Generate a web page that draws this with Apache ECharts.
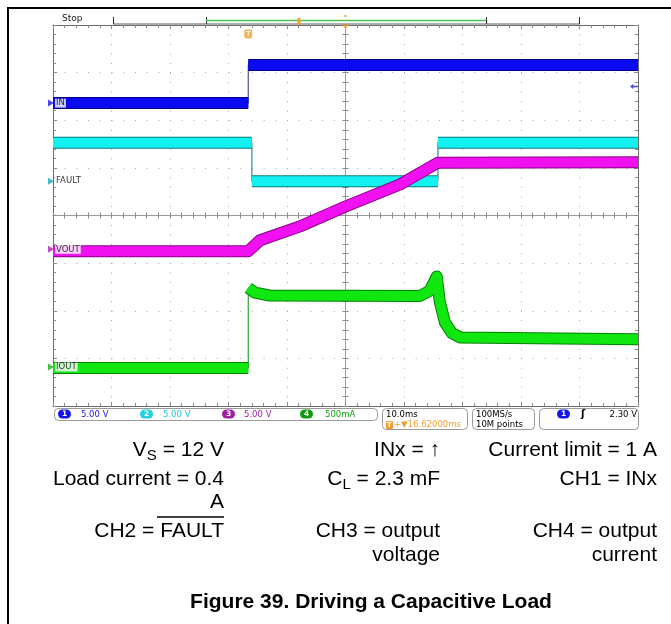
<!DOCTYPE html>
<html>
<head>
<meta charset="utf-8">
<script src="https://cdn.jsdelivr.net/npm/echarts@6/dist/echarts.min.js"></script>
<style>
html,body{margin:0;padding:0;background:#fff;}
#chart{width:671px;height:624px;}
</style>
</head>
<body>
<div id="chart"></div>
<script>
// ---- scope settings (time in ms relative to screen centre, level in divisions) ----
const timeMin = -50, timeMax = 50, timeStep = 10;
const divMin = -4, divMax = 4, divStep = 1;

// ---- traces ----
const inTime = [-50, -16.62, -16.62, 50];
const inLevel = [2.36, 2.36, 3.16, 3.16];

const faultTime = [-50, -16.0, -16.0, 15.8, 15.8, 50];
const faultLevel = [1.53, 1.53, 0.72, 0.72, 1.53, 1.53];

const voutTime = [-50, -16.62, -14.6, -7.8, 0, 9.3, 15.8, 50];
const voutLevel = [-0.75, -0.75, -0.52, -0.23, 0.19, 0.65, 1.11, 1.12];

const ioutTime = [-50, -16.62, -16.62, -15.5, -13.0, 12.7, 14.4, 15.6, 16.1, 17.0, 18.2, 19.6, 50];
const ioutLevel = [-3.20, -3.20, -1.52, -1.62, -1.68, -1.69, -1.58, -1.28, -1.80, -2.25, -2.47, -2.56, -2.60];

// ---- channel markers ----
const chNames = ['IN', 'FAULT', 'VOUT', 'IOUT'];
const chGround = [2.36, 0.72, -0.71, -3.18];
const chColors = ['#1a1ae0', '#1aa8b8', '#b01ab0', '#1ab01a'];
const trigTime = -16.62;
const trigLevelDiv = 2.71;

// ---- status bar / notes text ----
const chScales = ['5.00 V', '5.00 V', '5.00 V', '500mA'];
const timeBase = '10.0ms';
const trigDelay = '+\u25BC16.62000ms';
const sampleRate = '100MS/s';
const recordLen = '10M points';
const trigLevelText = '2.30 V';

const chart = echarts.init(document.getElementById('chart'), null, {renderer: 'canvas'});

function pts(time, level) { return time.map((t, i) => [t, level[i]]); }
function thickPts(time, level) {
  const out = [];
  for (let i = 0; i < time.length; i++) {
    if (i > 0 && time[i] === time[i - 1]) out.push([time[i], null]);
    out.push([time[i], level[i]]);
  }
  return out;
}
function trace(time, level, thin, dark, bright) {
  const base = {type: 'line', xAxisIndex: 0, yAxisIndex: 0, symbol: 'none', showSymbol: false,
    silent: true, animation: false, connectNulls: false, emphasis: {disabled: true}};
  return [
    Object.assign({}, base, {data: pts(time, level), z: 2, lineStyle: {width: 1.2, color: thin}}),
    Object.assign({}, base, {data: thickPts(time, level), z: 3, lineStyle: {width: 12, color: dark, cap: 'butt', join: 'round'}}),
    Object.assign({}, base, {data: thickPts(time, level), z: 3, lineStyle: {width: 10, color: bright, cap: 'butt', join: 'round'}})
  ];
}

const G = {left: 53, top: 25, width: 585, height: 381};
const grids = [0, 1, 2, 3].map(() => Object.assign({containLabel: false, outerBoundsMode: 'none'}, G));

const tickCol = '#8a8a8a';
function xAx(gi, extra) {
  return Object.assign({
    gridIndex: gi, type: 'value', min: timeMin, max: timeMax, interval: timeStep,
    axisLabel: {show: false}, splitLine: {show: false},
    axisLine: {show: true, onZero: false, lineStyle: {color: '#6a6a6a', width: 1}},
    axisTick: {show: true, inside: true, length: 4, lineStyle: {color: tickCol}},
    minorTick: {show: true, splitNumber: 5, length: 3, lineStyle: {color: tickCol}}
  }, extra);
}
function yAx(gi, extra) {
  return Object.assign({
    gridIndex: gi, type: 'value', min: divMin, max: divMax, interval: divStep,
    axisLabel: {show: false}, splitLine: {show: false},
    axisLine: {show: true, onZero: false, lineStyle: {color: '#6a6a6a', width: 1}},
    axisTick: {show: true, inside: true, length: 4, lineStyle: {color: tickCol}},
    minorTick: {show: true, splitNumber: 5, length: 3, lineStyle: {color: tickCol}}
  }, extra);
}
const crossLine = {show: true, onZero: true, lineStyle: {color: '#9a9a9a', width: 1}};
const xAxes = [
  xAx(0, {position: 'bottom', splitLine: {show: true, lineStyle: {color: '#a8a8a8', width: 1, type: [1, 8.52]}}}),
  xAx(1, {position: 'top'}),
  xAx(2, {position: 'bottom', axisLine: crossLine, axisTick: {show: true, inside: true, length: 3, lineStyle: {color: tickCol}}, minorTick: {show: true, splitNumber: 5, length: 3, lineStyle: {color: tickCol}}}),
  xAx(3, {position: 'bottom', axisLine: crossLine, axisTick: {show: true, inside: false, length: 3, lineStyle: {color: tickCol}}, minorTick: {show: true, splitNumber: 5, length: 3, lineStyle: {color: tickCol}}})
];
const yAxes = [
  yAx(0, {position: 'left', splitLine: {show: true, lineStyle: {color: '#a8a8a8', width: 1, type: [1, 10.7]}}}),
  yAx(1, {position: 'right'}),
  yAx(2, {position: 'left', axisLine: crossLine, axisTick: {show: true, inside: true, length: 3, lineStyle: {color: tickCol}}, minorTick: {show: true, splitNumber: 5, length: 3, lineStyle: {color: tickCol}}}),
  yAx(3, {position: 'left', axisLine: crossLine, axisTick: {show: true, inside: false, length: 3, lineStyle: {color: tickCol}}, minorTick: {show: true, splitNumber: 5, length: 3, lineStyle: {color: tickCol}}})
];

const series = []
  .concat(trace(inTime, inLevel, '#505098', '#00008a', '#0a0af0'))
  .concat(trace(faultTime, faultLevel, '#2a8a8a', '#008080', '#12f0f0'))
  .concat(trace(voutTime, voutLevel, '#802080', '#8a008a', '#f010f0'))
  .concat(trace(ioutTime, ioutLevel, '#30a030', '#008000', '#10e610'));

// channel ground markers with labels
chNames.forEach((n, i) => {
  series.push({
    type: 'scatter', xAxisIndex: 0, yAxisIndex: 0, silent: true, animation: false, clip: false, z: 6,
    data: [{name: n, value: [timeMin, chGround[i]]}],
    symbol: 'triangle', symbolRotate: -90, symbolSize: [7, 6], symbolOffset: [-2, 0],
    itemStyle: {color: chColors[i]},
    label: {show: true, position: 'right', distance: 1, formatter: '{b}', color: '#000',
      fontFamily: 'DejaVu Sans', fontSize: 8.5, backgroundColor: '#fff', padding: [0, 1, 0, 1]}
  });
});
// trigger position "T" and expansion point
series.push({
  type: 'scatter', xAxisIndex: 0, yAxisIndex: 0, silent: true, animation: false, clip: false, z: 6,
  data: [[trigTime, 3.81]], symbol: 'roundRect', symbolSize: [8, 9],
  itemStyle: {color: '#f0a030'},
  label: {show: true, position: 'inside', formatter: 'T', color: '#fff', fontSize: 7, fontWeight: 'bold', fontFamily: 'DejaVu Sans'}
});
series.push({
  type: 'scatter', xAxisIndex: 0, yAxisIndex: 0, silent: true, animation: false, clip: false, z: 6,
  data: [[0, divMax]], symbol: 'triangle', symbolRotate: 180, symbolSize: [7, 5], symbolOffset: [0, 2],
  itemStyle: {color: '#f0a030'}
});
// trigger level arrow on the right edge
series.push({
  type: 'scatter', xAxisIndex: 0, yAxisIndex: 0, silent: true, animation: false, clip: false, z: 6,
  data: [[timeMax, trigLevelDiv]], symbol: 'path://M0,5 L5,0 L5,3.5 L12,3.5 L12,6.5 L5,6.5 L5,10 Z',
  symbolSize: [8, 5], symbolOffset: [-4, 0], itemStyle: {color: '#1a1ae0'}
});

// ---------- graphics (frame, record bar, status bar, notes) ----------
const F = 'DejaVu Sans';
function txt(x, y, text, opt) {
  opt = opt || {};
  const align = opt.align || 'left';
  return {type: 'text', z: 10, silent: true, style: Object.assign({
    text: text, x: x, y: y, align: align, textAlign: align, verticalAlign: 'middle', textVerticalAlign: 'middle',
    fill: opt.fill || '#000', fontSize: opt.size || 8.5, fontFamily: opt.family || F, fontWeight: opt.weight || 'normal'
  }, opt.extra || {})};
}
function pill(x, y, color, label) {
  return [
    {type: 'rect', z: 10, silent: true, shape: {x: x, y: y, width: 13, height: 9, r: 4.5}, style: {fill: color}},
    txt(x + 6.5, y + 4.7, label, {align: 'center', fill: '#fff', size: 7.5, weight: 'bold'})
  ];
}
function box(x, y, w, h) {
  return {type: 'rect', z: 9, silent: true, shape: {x: x, y: y, width: w, height: h, r: 4}, style: {fill: 'none', stroke: '#9a9a9a', lineWidth: 1}};
}
function seg(x1, y1, x2, y2, color, w) {
  return {type: 'line', z: 10, silent: true, shape: {x1: x1, y1: y1, x2: x2, y2: y2}, style: {stroke: color, lineWidth: w || 1}};
}

const g = [];
// outer figure border
g.push({type: 'polyline', z: 10, silent: true, shape: {points: [[671, 8], [8, 8], [8, 624]]}, style: {stroke: '#000', lineWidth: 2, fill: 'none'}});
// record bar
g.push(txt(62, 19, 'Stop', {size: 9, fill: '#202020'}));
g.push(seg(113, 24, 580, 24, '#5a5a5a', 1));
[113, 206, 486, 579].forEach(x => g.push(seg(x + 0.5, 17, x + 0.5, 24, '#303030', 1)));
g.push(seg(206, 20.5, 486, 20.5, '#50c050', 1.5));
g.push({type: 'rect', z: 11, silent: true, shape: {x: 297.5, y: 18, width: 3, height: 7}, style: {fill: '#f0a030'}});
g.push({type: 'rect', z: 11, silent: true, shape: {x: 344.5, y: 15, width: 2, height: 2}, style: {fill: '#f0a030'}});

// status bar
g.push(box(54.5, 408.5, 323, 12));
const pillX = [58, 140, 222, 300];
const textX = [81, 163, 244, 325];
const pillCols = ['#1414e6', '#22d0e0', '#a0209c', '#109c10'];
const txtCols = ['#2020e0', '#20c8d8', '#a0209c', '#10a010'];
for (let i = 0; i < 4; i++) {
  g.push(...pill(pillX[i], 409.5, pillCols[i], String(i + 1)));
  g.push(txt(textX[i], 414.5, chScales[i], {fill: txtCols[i]}));
}
g.push(box(382.5, 408.5, 85, 21));
g.push(txt(386, 414.5, timeBase));
g.push({type: 'rect', z: 10, silent: true, shape: {x: 386, y: 421, width: 7, height: 8, r: 1}, style: {fill: '#f0a030'}});
g.push(txt(389.5, 425, 'T', {align: 'center', fill: '#fff', size: 7, weight: 'bold'}));
g.push(txt(394, 425, trigDelay, {fill: '#f0a030'}));
g.push(box(472.5, 408.5, 62, 21));
g.push(txt(476, 414.5, sampleRate));
g.push(txt(476, 425, recordLen));
g.push(box(539.5, 408.5, 99, 21));
g.push(...pill(557, 409.5, '#1414e6', '1'));
g.push(txt(581, 414.5, '\u0283', {size: 10, weight: 'bold'}));
g.push(txt(637, 414.5, trigLevelText, {align: 'right'}));

// notes table
const NF = 'Liberation Sans';
const rich = {
  m: {fontSize: 21, fontFamily: NF, color: '#000', lineHeight: 26},
  s: {fontSize: 15, fontFamily: NF, color: '#000', lineHeight: 15, verticalAlign: 'bottom'}
};
function note(x, y, text, isRich) {
  const o = txt(x, y, text, {align: 'right', size: 21, family: NF});
  if (isRich) o.style.rich = rich;
  return o;
}
g.push(note(224, 450, '{m|V}{s|S}{m| = 12 V}', true));
g.push(note(440, 450, 'INx = \u2191'));
g.push(note(657, 450, 'Current limit = 1 A'));
g.push(note(224, 479, 'Load current = 0.4'));
g.push(note(440, 479, '{m|C}{s|L}{m| = 2.3 mF}', true));
g.push(note(657, 479, 'CH1 = INx'));
g.push(note(224, 502, 'A'));
g.push(note(224, 531, 'CH2 = FAULT'));
g.push(seg(157, 517, 224, 517, '#000', 1.5));
g.push(note(440, 531, 'CH3 = output'));
g.push(note(657, 531, 'CH4 = output'));
g.push(note(440, 555, 'voltage'));
g.push(note(657, 555, 'current'));
g.push(txt(371, 602, 'Figure 39. Driving a Capacitive Load', {align: 'center', size: 21, family: NF, weight: 'bold'}));

chart.setOption({
  animation: false,
  backgroundColor: '#fff',
  grid: grids,
  xAxis: xAxes,
  yAxis: yAxes,
  series: series,
  graphic: {elements: g}
});
</script>
</body>
</html>
